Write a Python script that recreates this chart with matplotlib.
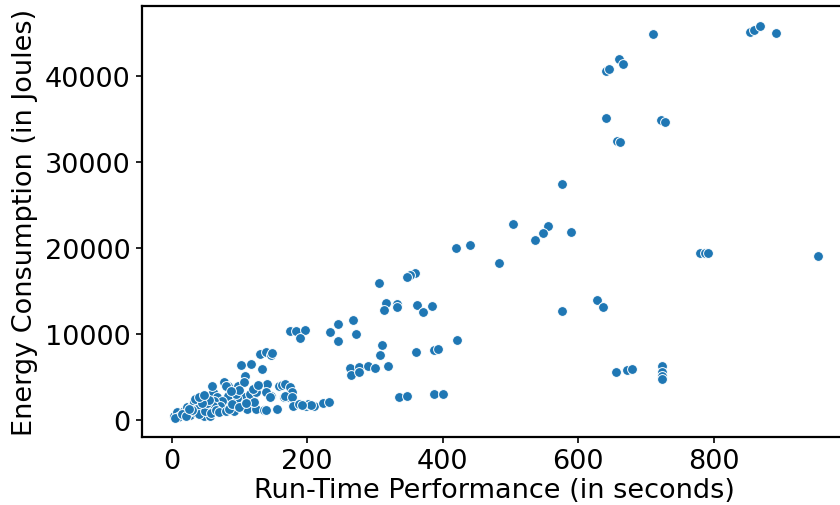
import matplotlib
matplotlib.use("Agg")
import matplotlib.pyplot as plt

runtime_s = [
    # upper region
    710, 660, 667, 642, 645, 854, 860, 868, 892, 641, 723, 728, 658, 662,
    # middle
    576, 504, 556, 549, 536, 589, 420, 441, 484, 360, 352, 347, 306, 317, 314,
    333, 333, 362, 371, 384, 576, 628, 637, 780, 787, 792, 954,
    175, 184, 197, 189, 234, 245, 268, 272, 246, 311, 308, 361, 388, 393, 421,
    656, 673, 680, 724, 724, 724, 724,
    263, 276, 290, 300, 319, 265, 277,
    336, 348, 388, 400,
    # cluster 100-235
    103, 118, 134, 131, 139, 147, 148, 108, 141,
    158, 163, 168, 175, 166, 173, 178, 168, 178, 147, 140, 146, 121,
    180, 188, 198, 202, 210, 224, 233, 206, 192,
    92, 111, 124, 136, 139, 156,
    107, 116, 124, 122,
    98, 107, 77, 83, 80, 87, 96, 75, 62, 61, 60, 67, 84, 74, 63, 72, 61,
    # low-left dense cluster
    3, 8, 13, 18, 23, 30, 33, 35, 45, 48, 43, 57, 13, 20, 25, 28, 35, 38, 40,
    50, 52, 55, 45, 40, 48, 58, 65, 70, 80, 85, 90, 100, 110, 95, 100, 120,
    128, 88, 10, 5, 15, 22, 30, 26,
]

energy_j = [
    # upper region
    44860, 41985, 41368, 40588, 40800, 45093, 45326, 45861, 45012, 35153, 34850,
    34686, 32440, 32289,
    # middle
    27436, 22780, 22547, 21732, 20952, 21884, 20021, 20335, 18276, 17076, 16880,
    16645, 15877, 13584, 12769, 13503, 13083, 13350, 12571, 13200, 12618, 13933,
    13154, 19400, 19404, 19380, 19090,
    10360, 10290, 10476, 9475, 10243, 11105, 11605, 9975, 9126, 8730, 7496, 7915,
    8078, 8194, 9312,
    5517, 5820, 5901, 6216, 5587, 5122, 4737,
    5983, 6100, 6286, 6018, 6286, 5203, 5517,
    2607, 2724, 2991, 3026,
    # cluster 100-235
    6367, 6484, 5902, 7647, 7845, 7531, 7729, 5122, 4155,
    3888, 4039, 4155, 3773, 2607, 2607, 3189, 2794, 2607, 2794, 3189, 2607, 2794,
    1630, 1827, 1630, 1827, 1630, 1908, 2025, 1700, 1750,
    1048, 1245, 1245, 1164, 1129, 1245,
    2607, 2991, 3189, 2025,
    3958, 4353, 4353, 3888, 3958, 2211, 2491, 1630, 1443, 3189, 3958, 2607, 2794,
    2211, 2211, 1560, 1630,
    # low-left dense cluster
    396, 861, 396, 1048, 1443, 1560, 2095, 2409, 1245, 396, 1630, 466, 466, 600,
    800, 500, 900, 1200, 700, 1000, 1900, 2300, 2000, 2600, 2900, 800, 1100, 900,
    1000, 1300, 1800, 1500, 1900, 3000, 3400, 3600, 4000, 3300, 300, 200, 700,
    400, 1100, 1300,
]

x_label = "Run-Time Performance (in seconds)"
y_label = "Energy Consumption (in Joules)"

plt.rcParams['font.family'] = ['DejaVu Sans']
fs = 19.5

fig = plt.figure(figsize=(8.4, 5.06), dpi=100)
W, H = 840, 506
ax = fig.add_axes([141.7 / W, (H - 438) / H, (847 - 141.7) / W, (438 - 7) / H])

ax.scatter(runtime_s, energy_j, s=50, color='#1f77b4', edgecolors='white',
           linewidths=0.7, zorder=3)

ax.set_xlim(-44, 997)
ax.set_ylim(-2014, 48160)
ax.set_xticks([0, 200, 400, 600, 800])
ax.set_yticks([0, 10000, 20000, 30000, 40000])
ax.tick_params(labelsize=fs, length=4.2, width=1.2, pad=4)
for sp in ax.spines.values():
    sp.set_linewidth(1.6)
    sp.set_color('black')

ax.set_xlabel(x_label, fontsize=fs, labelpad=2)
ax.set_ylabel(y_label, fontsize=fs, labelpad=5)

fig.savefig("out.png", dpi=100)
